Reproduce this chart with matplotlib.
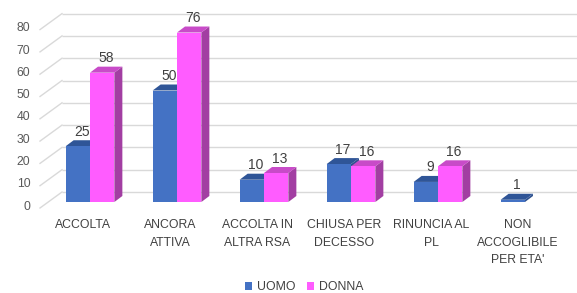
import numpy as np
import matplotlib
matplotlib.use("Agg")
import matplotlib.pyplot as plt
from matplotlib.patches import Polygon, Patch

categories = ["ACCOLTA", "ANCORA\nATTIVA", "ACCOLTA IN\nALTRA RSA", "CHIUSA PER\nDECESSO",
              "RINUNCIA AL\nPL", "NON\nACCOGLIBILE\nPER ETA'"]
uomo = [25, 50, 10, 17, 9, 1]
donna = [58, 76, 13, 16, 16, None]
series_names = ["UOMO", "DONNA"]
yticks = [0, 10, 20, 30, 40, 50, 60, 70, 80]

plt.rcParams['font.family'] = ['Liberation Sans', 'DejaVu Sans']

W, H = 577, 293
fig = plt.figure(figsize=(W / 100, H / 100), dpi=100)
ax = fig.add_axes([0, 0, 1, 1])
ax.axis('off')

# pixel scale of the "front plane"
px_x = 87.0      # pixels per category
px_y = 2.23      # pixels per unit
x0_px = 90.0     # first group centre (px from left)
y0_px = 91.0     # value 0 (px from bottom)
ax.set_xlim(-x0_px / px_x, (W - x0_px) / px_x)
ax.set_ylim(-y0_px / px_y, (H - y0_px) / px_y)

# depth of the bars and of the back wall
ddx = 8 / px_x
ddy = 6 / px_y
grid_front_x = (40 - x0_px) / px_x
grid_back_x = (62 - x0_px) / px_x
grid_front_dy = -6 / px_y
grid_back_dy = 10 / px_y

for v in yticks:
    ax.plot([grid_back_x, ax.get_xlim()[1]], [v + grid_back_dy] * 2,
            color='#d9d9d9', lw=1, zorder=1, solid_capstyle='butt')
    ax.plot([grid_front_x, grid_back_x], [v + grid_front_dy, v + grid_back_dy],
            color='#d9d9d9', lw=1, zorder=1)
    ax.text(grid_front_x - 0.11, v + grid_front_dy + 0.6, str(v), ha='right', va='center',
            fontsize=8.8, color='#595959')

colors = {
    "UOMO": ("#4472c4", "#2f5597", "#2f528f"),
    "DONNA": ("#ff5cff", "#c84bc8", "#a23ea2"),
}

w = 0.28
z = 3


def box(xl, h, front, top, side, zo):
    ax.add_patch(Polygon([(xl + w, 0), (xl + w + ddx, ddy), (xl + w + ddx, h + ddy), (xl + w, h)],
                         closed=True, facecolor=side, edgecolor='none', zorder=zo))
    ax.add_patch(Polygon([(xl, h), (xl + ddx, h + ddy), (xl + w + ddx, h + ddy), (xl + w, h)],
                         closed=True, facecolor=top, edgecolor='none', zorder=zo))
    ax.bar(xl + w / 2, h, w, color=front, linewidth=0, zorder=zo)
    ax.text(xl + w / 2 + ddx / 2, h + ddy + 8.5 / px_y, str(h), ha='center', va='center',
            fontsize=10, color='#404040', zorder=zo + 1)


x = np.arange(len(categories))
for i in x:
    for j, (name, vals) in enumerate(zip(series_names, [uomo, donna])):
        h = vals[i]
        if h is None:
            continue
        front, top, side = colors[name]
        box(i - w + j * w, h, front, top, side, z)
        z += 1
    ax.text(i - 0.08, -17 / px_y, categories[i], ha='center', va='top', fontsize=8.8,
            color='#404040', linespacing=1.62)

handles = [Patch(facecolor=colors[n][0], edgecolor='none') for n in series_names]
fig.legend(handles, series_names, loc='center', bbox_to_anchor=(304 / W, 6 / H), ncol=2,
           frameon=False, fontsize=8.8, handlelength=0.6, handleheight=0.6, handletextpad=0.4,
           columnspacing=0.9, labelcolor='#404040')

fig.savefig("out.png", dpi=100)
